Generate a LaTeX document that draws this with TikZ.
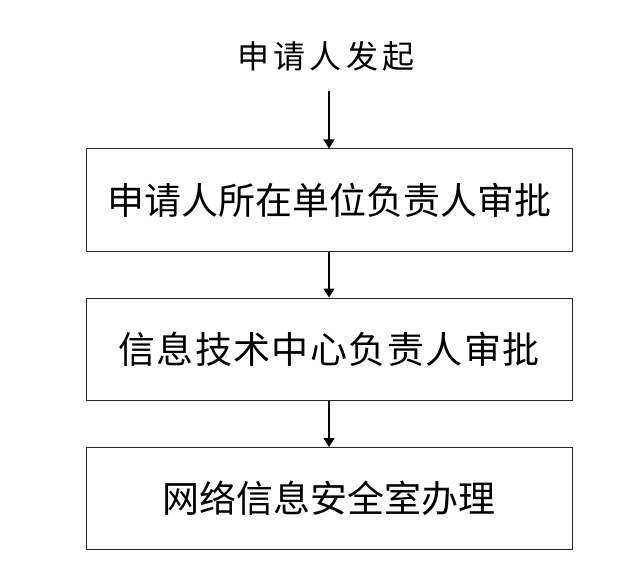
\documentclass[tikz,border=0pt]{standalone}
\usepackage{fontspec}
\newfontfamily\cjk{Noto Sans CJK SC}
\usetikzlibrary{arrows.meta}
\tikzset{
  stepbox/.style={draw=black!85, line width=1pt, minimum width=486pt, minimum height=102pt, inner sep=0pt,
    font=\cjk\fontsize{37pt}{40pt}\selectfont},
  flowarrow/.style={draw=black, line width=1.3pt, -{Triangle[width=11pt,length=9pt]}}
}
\begin{document}
\begin{tikzpicture}[x=1pt,y=-1pt]
\useasboundingbox (0,0) rectangle (637,580);
\node[font=\cjk\fontsize{32pt}{36pt}\selectfont\addfontfeature{LetterSpace=13}] (start) at (326,56) {申请人发起};
\coordinate (s0) at (329,91);
\node[stepbox] (b1) at (329,200) {申请人所在单位负责人审批};
\node[stepbox] (b2) at (329,349) {\addfontfeature{LetterSpace=4}信息技术中心负责人审批};
\node[stepbox] (b3) at (329,498.5) {网络信息安全室办理};
\draw[flowarrow] (s0) -- (b1.north);
\draw[flowarrow] (b1.south) -- (b2.north);
\draw[flowarrow] (b2.south) -- (b3.north);
\end{tikzpicture}
\end{document}
